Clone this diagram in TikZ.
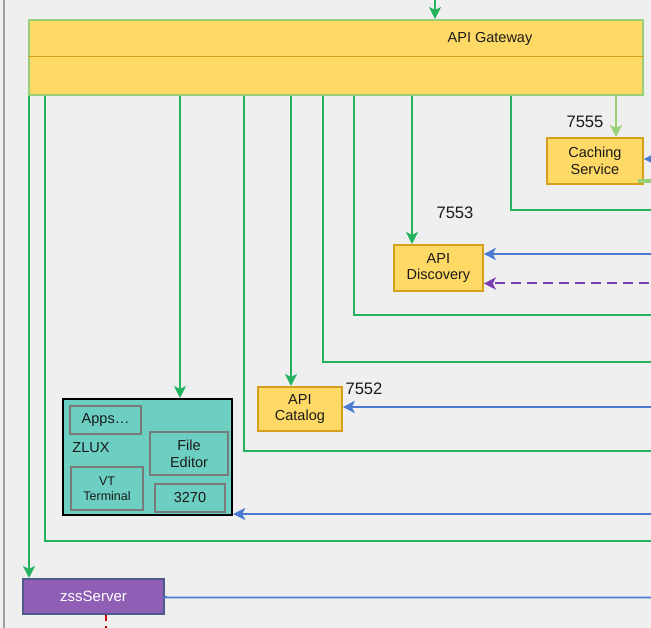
\documentclass[tikz,border=0pt]{standalone}
\usepackage{fontspec}
\setmainfont{Liberation Sans}
\usetikzlibrary{arrows.meta}
\definecolor{bgc}{HTML}{EFEFEF}
\definecolor{gwfill}{HTML}{FFD966}
\definecolor{gwborder}{HTML}{97D077}
\definecolor{yfill}{HTML}{FFD966}
\definecolor{yborder}{HTML}{D6A01E}
\definecolor{grn}{HTML}{23B35F}
\definecolor{lgrn}{HTML}{97D077}
\definecolor{blu}{HTML}{4A7BD0}
\definecolor{pur}{HTML}{7B3FB5}
\definecolor{zteal}{HTML}{6CCFC1}
\definecolor{zinner}{HTML}{7A7A7A}
\definecolor{zssfill}{HTML}{8F5FB5}
\definecolor{zssborder}{HTML}{4E5A8A}
\definecolor{txt}{HTML}{1A1A1A}
\definecolor{redd}{HTML}{CC0000}
\tikzset{
  boxfont/.style={font=\fontsize{14.5}{16.7}\selectfont},
  ybox/.style={draw=yborder, fill=yfill, line width=1.8pt, inner sep=0pt, align=center, anchor=north west, text=txt, boxfont},
  innerbox/.style={draw=zinner, line width=2pt, inner sep=0pt, align=center, anchor=north west, text=txt, boxfont},
  portlbl/.style={font=\fontsize{16.6}{19}\selectfont, text=txt, inner sep=0pt},
  tip/.style={-{Stealth[length=12pt,width=12pt,inset=3pt]}},
  gline/.style={draw=grn, line width=2pt},
  garrow/.style={gline, tip},
  lgline/.style={draw=lgrn, line width=2pt},
  barrow/.style={draw=blu, line width=1.8pt, tip},
  pdash/.style={draw=pur, line width=2pt, dash pattern=on 10pt off 6pt, tip},
}
\begin{document}
\begin{tikzpicture}[x=1pt,y=-1pt]
\useasboundingbox (0,0) rectangle (651,628);
\fill[bgc] (0,0) rectangle (651,628);
\draw[gray!75, line width=1.8pt] (4,0) -- (4,628);

% API Gateway
\node[draw=gwborder, fill=gwfill, line width=2.2pt, inner sep=0pt, anchor=north west,
      minimum width=614pt, minimum height=75pt] (gw) at (28,19) {};
\node[boxfont, text=txt, inner sep=0pt] (gwt) at (490,39) {API Gateway};
\coordinate (gwl) at (28,56.5);
\draw[yborder, line width=1.3pt] (gwl) -- (gwl -| gw.east);
\coordinate (topin) at (435,0);
\draw[garrow] (topin) -- (topin |- gw.north);

% Service boxes
\node[ybox, minimum width=96pt, minimum height=46pt] (cache) at (546,137) {Caching\\Service};
\node[portlbl] (p7555) at (585,122) {7555};
\node[ybox, minimum width=89pt, minimum height=46pt] (disc) at (393,244) {API\\Discovery};
\node[portlbl] (p7553) at (455,213) {7553};
\node[ybox, minimum width=84pt, minimum height=44pt] (cat) at (257,386) {API\\Catalog};
\node[portlbl] (p7552) at (364,389) {7552};

% ZLUX
\node[draw=black, fill=zteal, line width=2.2pt, inner sep=0pt, anchor=north west,
      minimum width=169pt, minimum height=116pt] (zlux) at (62,398) {};
\node[innerbox, minimum width=71pt, minimum height=28pt] (apps) at (69,405) {Apps\ldots};
\node[boxfont, text=txt, inner sep=0pt] (zluxt) at (91,448) {ZLUX};
\node[innerbox, minimum width=78pt, minimum height=43pt] (fed) at (149,431) {File\\Editor};
\node[innerbox, minimum width=72pt, minimum height=43pt, font=\fontsize{12.5}{15}\selectfont] (vt) at (70,466) {VT\\Terminal};
\node[innerbox, minimum width=70pt, minimum height=28pt] (t3270) at (154,483) {3270};

% zssServer
\node[draw=zssborder, fill=zssfill, line width=2pt, inner sep=0pt, anchor=north west,
      minimum width=141pt, minimum height=35pt, text=white, font=\fontsize{15}{17}\selectfont] (zss) at (22,578) {zssServer};

% Green connectors from gateway
\coordinate (x29) at (29,0);
\draw[garrow] (gw.south -| x29) -- (zss.north -| x29);
\coordinate (t45) at (45,541); \coordinate (r45) at (652,541);
\draw[gline] (gw.south -| t45) -- (t45) -- (r45);
\coordinate (x180) at (180,0);
\draw[garrow] (gw.south -| x180) -- (zlux.north -| x180);
\coordinate (t244) at (244,451); \coordinate (r244) at (652,451);
\draw[gline] (gw.south -| t244) -- (t244) -- (r244);
\coordinate (x291) at (291,0);
\draw[garrow] (gw.south -| x291) -- (cat.north -| x291);
\coordinate (t323) at (323,362); \coordinate (r323) at (652,362);
\draw[gline] (gw.south -| t323) -- (t323) -- (r323);
\coordinate (t354) at (354,315); \coordinate (r354) at (652,315);
\draw[gline] (gw.south -| t354) -- (t354) -- (r354);
\coordinate (x412) at (412,0);
\draw[garrow] (gw.south -| x412) -- (disc.north -| x412);
\coordinate (t511) at (511,210); \coordinate (r511) at (652,210);
\draw[gline] (gw.south -| t511) -- (t511) -- (r511);
\coordinate (x616) at (616,0);
\draw[lgline, tip] (gw.south -| x616) -- (cache.north -| x616);
\coordinate (lg1) at (638,181); \coordinate (lg2) at (652,181);
\draw[draw=lgrn, line width=3.5pt] (lg1) -- (lg2);

% Blue connectors from the right
\coordinate (b1) at (665,159);
\draw[barrow] (b1) -- (b1 -| cache.east);
\coordinate (b2) at (665,254);
\draw[barrow] (b2) -- (b2 -| disc.east);
\coordinate (b3) at (665,283.5);
\draw[pdash] (b3) -- (b3 -| disc.east);
\coordinate (b4) at (665,407);
\draw[barrow] (b4) -- (b4 -| cat.east);
\coordinate (b5) at (665,514);
\draw[barrow] (b5) -- (b5 -| zlux.east);
\coordinate (b6) at (652,597.5);
\draw[draw=blu, line width=1.8pt] ([xshift=2pt]zss.east) -- (b6 -| zss.east) -- (b6);

% Red dashed line
\coordinate (rd) at (106,630);
\draw[draw=redd, line width=1.5pt, dash pattern=on 6pt off 5pt] (zss.south -| rd) -- (rd);
\end{tikzpicture}
\end{document}
